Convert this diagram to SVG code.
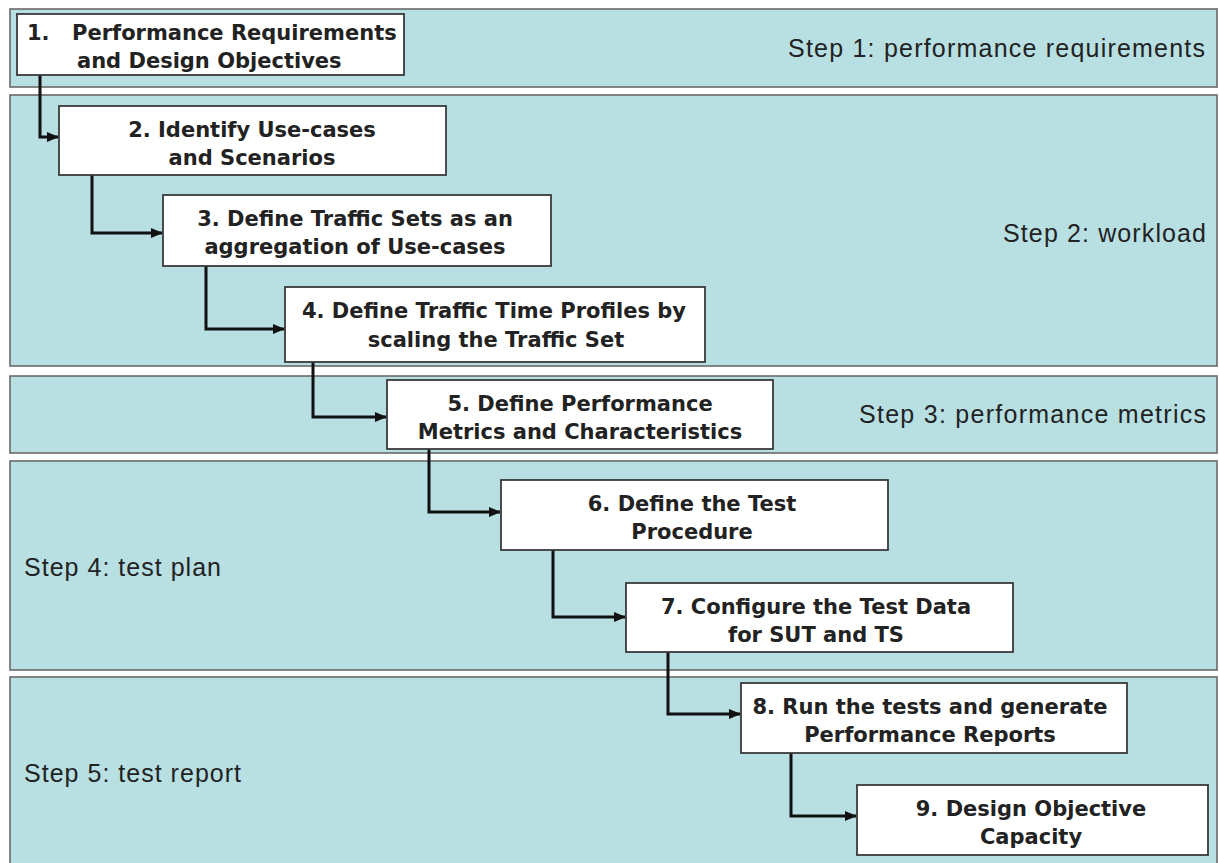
<svg xmlns="http://www.w3.org/2000/svg" width="1219" height="863" viewBox="0 0 1219 863">
  <style>
    .band { fill: #b8dfe2; stroke: #6a6a6a; stroke-width: 1.6; }
    .box { fill: #ffffff; stroke: #3a3a3a; stroke-width: 1.8; }
    .lbl { font-family: "DejaVu Sans", Verdana, sans-serif; font-weight: bold; font-size: 21px; fill: #222222; text-anchor: middle; }
    .lbl-start { text-anchor: start; }
    .step { font-family: "Liberation Sans", Arial, sans-serif; font-size: 25px; fill: #222222; }
    .conn { fill: none; stroke: #111111; stroke-width: 3; stroke-linejoin: miter; }
  </style>
  <defs>
    <marker id="arrow" markerUnits="userSpaceOnUse" markerWidth="14" markerHeight="14" refX="11" refY="7" orient="auto">
      <path d="M0,2 L12,7 L0,12 Z" fill="#111111"/>
    </marker>
  </defs>

  <rect width="1219" height="863" fill="#ffffff"/>

  <!-- phase bands -->
  <g id="bands">
    <g id="band-step1">
      <rect class="band" x="10" y="9" width="1207" height="78"/>
      <text class="step" x="788" y="57" textLength="417">Step 1: performance requirements</text>
    </g>
    <g id="band-step2">
      <rect class="band" x="10" y="95" width="1207" height="271"/>
      <text class="step" x="1003" y="242" textLength="203">Step 2: workload</text>
    </g>
    <g id="band-step3">
      <rect class="band" x="10" y="376" width="1207" height="77"/>
      <text class="step" x="859" y="423" textLength="347">Step 3: performance metrics</text>
    </g>
    <g id="band-step4">
      <rect class="band" x="10" y="461" width="1207" height="209"/>
      <text class="step" x="24" y="576" textLength="197">Step 4: test plan</text>
    </g>
    <g id="band-step5">
      <rect class="band" x="10" y="677" width="1207" height="195"/>
      <text class="step" x="24" y="782" textLength="217">Step 5: test report</text>
    </g>
  </g>

  <!-- connectors -->
  <g id="connectors">
    <path class="conn" marker-end="url(#arrow)" d="M40,75 V137 H58"/>
    <path class="conn" marker-end="url(#arrow)" d="M92,175 V233 H162"/>
    <path class="conn" marker-end="url(#arrow)" d="M206,266 V329 H284"/>
    <path class="conn" marker-end="url(#arrow)" d="M313,362 V417 H386"/>
    <path class="conn" marker-end="url(#arrow)" d="M429,449 V512 H500"/>
    <path class="conn" marker-end="url(#arrow)" d="M553,550 V617 H625"/>
    <path class="conn" marker-end="url(#arrow)" d="M668,652 V714 H740"/>
    <path class="conn" marker-end="url(#arrow)" d="M791,753 V816 H856"/>
  </g>

  <!-- process steps -->
  <g id="node1">
    <rect class="box" x="17" y="14" width="387" height="61"/>
    <text class="lbl lbl-start" x="27" y="40">1.</text>
    <text class="lbl lbl-start" x="72" y="40">Performance Requirements</text>
    <text class="lbl lbl-start" x="77" y="68">and Design Objectives</text>
  </g>
  <g id="node2">
    <rect class="box" x="59" y="106" width="387" height="69"/>
    <text class="lbl" x="252" y="137">2. Identify Use-cases</text>
    <text class="lbl" x="252" y="165">and Scenarios</text>
  </g>
  <g id="node3">
    <rect class="box" x="163" y="195" width="388" height="71"/>
    <text class="lbl" x="355" y="226">3. Define Traffic Sets as an</text>
    <text class="lbl" x="355" y="254">aggregation of Use-cases</text>
  </g>
  <g id="node4">
    <rect class="box" x="285" y="287" width="420" height="75"/>
    <text class="lbl" x="494" y="318">4. Define Traffic Time Profiles by</text>
    <text class="lbl" x="496" y="347">scaling the Traffic Set</text>
  </g>
  <g id="node5">
    <rect class="box" x="387" y="380" width="386" height="69"/>
    <text class="lbl" x="580" y="411">5. Define Performance</text>
    <text class="lbl" x="580" y="439">Metrics and Characteristics</text>
  </g>
  <g id="node6">
    <rect class="box" x="501" y="480" width="387" height="70"/>
    <text class="lbl" x="692" y="511">6. Define the Test</text>
    <text class="lbl" x="692" y="539">Procedure</text>
  </g>
  <g id="node7">
    <rect class="box" x="626" y="583" width="387" height="69"/>
    <text class="lbl" x="816" y="614">7. Configure the Test Data</text>
    <text class="lbl" x="816" y="642">for SUT and TS</text>
  </g>
  <g id="node8">
    <rect class="box" x="741" y="683" width="386" height="70"/>
    <text class="lbl" x="930" y="714">8. Run the tests and generate</text>
    <text class="lbl" x="930" y="742">Performance Reports</text>
  </g>
  <g id="node9">
    <rect class="box" x="857" y="785" width="351" height="70"/>
    <text class="lbl" x="1031" y="816">9. Design Objective</text>
    <text class="lbl" x="1031" y="844">Capacity</text>
  </g>
</svg>
